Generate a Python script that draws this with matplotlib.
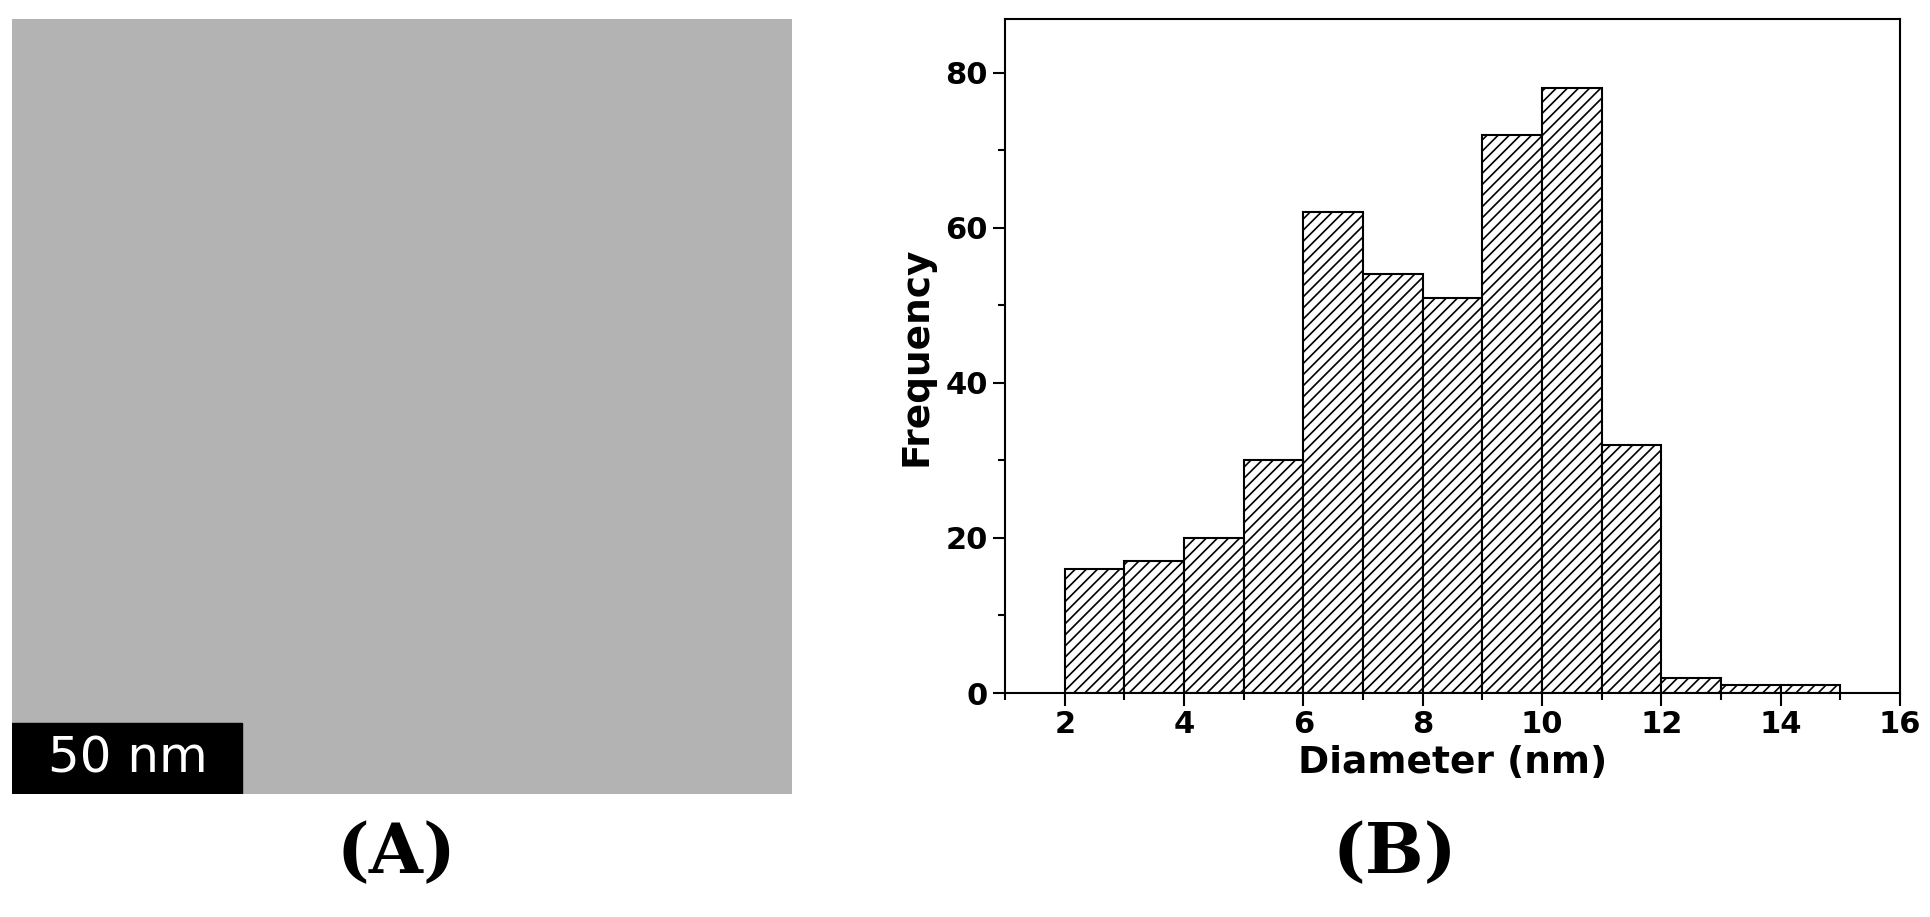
import numpy as np
import matplotlib
matplotlib.use("Agg")
import matplotlib.pyplot as plt
from matplotlib.ticker import MultipleLocator

# histogram of particle diameters
bin_left = [2, 3, 4, 5, 6, 7, 8, 9, 10, 11, 12, 13, 14]
counts = [16, 17, 20, 30, 62, 54, 51, 72, 78, 32, 2, 1, 1]

W, H = 1931, 917
RW, RH = 1560, 741   # layout measured on a 1560x741 view
fig = plt.figure(figsize=(W / 100, H / 100), dpi=100)
plt.rcParams["hatch.linewidth"] = 1.2

# panel A: TEM micrograph placeholder (plain grey field with scale bar)
axA = fig.add_axes([10 / RW, 1 - 642 / RH, 630 / RW, 627 / RH])
axA.imshow(np.full((10, 10), 0.70), cmap="gray", vmin=0, vmax=1, aspect="auto")
axA.set_xticks([]); axA.set_yticks([])
for s in axA.spines.values():
    s.set_visible(False)
axA.add_patch(plt.Rectangle((0, 0), 0.295, 0.092, transform=axA.transAxes, color="black"))
axA.text(0.1475, 0.046, "50 nm", transform=axA.transAxes, color="white",
         fontsize=36, ha="center", va="center", family="DejaVu Sans")

# panel B: histogram
axB = fig.add_axes([812 / RW, 1 - 560 / RH, 723 / RW, 545 / RH])
axB.bar(bin_left, counts, width=1, align="edge", facecolor="white",
        edgecolor="black", linewidth=1.5, hatch="///")
axB.set_xlim(1, 16)
axB.set_ylim(0, 87)
axB.xaxis.set_major_locator(MultipleLocator(2))
axB.xaxis.set_minor_locator(MultipleLocator(1))
axB.yaxis.set_major_locator(MultipleLocator(20))
axB.yaxis.set_minor_locator(MultipleLocator(10))
axB.tick_params(which="both", direction="out", labelsize=22)
axB.tick_params(which="major", length=9, width=1.5)
axB.tick_params(which="minor", length=5, width=1.5)
for lab in axB.get_xticklabels() + axB.get_yticklabels():
    lab.set_fontweight("bold")
for s in axB.spines.values():
    s.set_linewidth(1.5)
axB.set_xlabel("Diameter (nm)", fontsize=27, fontweight="bold", labelpad=4)
axB.set_ylabel("Frequency", fontsize=27, fontweight="bold", labelpad=8)

fig.text(320 / RW, 1 - 690 / RH, "(A)", fontsize=50, ha="center", va="center",
         family="DejaVu Serif", fontweight="bold")
fig.text(1127 / RW, 1 - 690 / RH, "(B)", fontsize=50, ha="center", va="center",
         family="DejaVu Serif", fontweight="bold")

fig.savefig("out.png", dpi=100, facecolor="white")
